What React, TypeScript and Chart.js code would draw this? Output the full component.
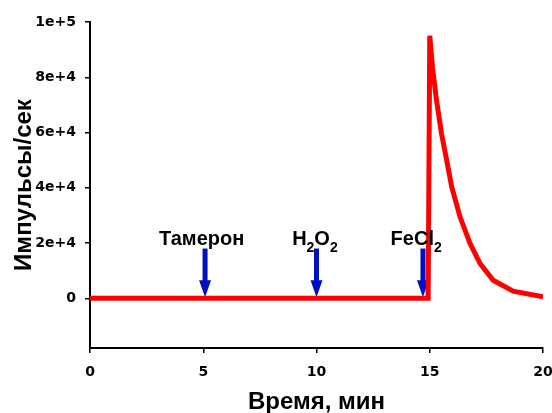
import React, { useEffect, useRef } from "react";
import { Chart, registerables } from "chart.js";

Chart.register(...registerables);

// ---- data ----
const times = [0, 14.93, 15.0, 15.12, 15.3, 15.52, 15.75, 15.97, 16.34, 16.78, 17.22, 17.8, 18.68, 20];
const counts = [0, 0, 95000, 83600, 71600, 59600, 49900, 40300, 29400, 19800, 12600, 6500, 2600, 500];

const xTickValues = [0, 5, 10, 15, 20];
const yTickValues = [0, 20000, 40000, 60000, 80000, 100000];
const yTickLabels = ["0", "2e+4", "4e+4", "6e+4", "8e+4", "1e+5"];

const xMin = 0;
const xMax = 20;
const yMin = -18000;
const yMax = 100000;

// additions marked by arrows
const arrowTimes = [5.08, 10.0, 14.7];
const arrowTopValues = [18000, 18000, 18000];
const arrowTipValue = 0;
const labelCenterTimes = [4.93, 9.93, 14.4];
const labelBaselineValue = 19200;
const labelParts: { t: string; sub?: boolean }[][] = [
  [{ t: "Тамерон" }],
  [{ t: "H" }, { t: "2", sub: true }, { t: "O" }, { t: "2", sub: true }],
  [{ t: "FeCl" }, { t: "2", sub: true }],
];

const RED = "#ff0000";
const BLUE = "#0010c0";
const TICK_FONT = { family: "'DejaVu Sans'", size: 14, weight: "bold" as const };
const TITLE_FONT = { family: "'Liberation Sans'", size: 24, weight: "bold" as const, lineHeight: 0.85 };
const YTITLE_FONT = { family: "'Liberation Sans'", size: 24, weight: "bold" as const, lineHeight: 1.2 };
const MAIN_FONT = "bold 20px 'Liberation Sans'";
const SUB_FONT = "bold 14px 'Liberation Sans'";

const arrowPlugin = {
  id: "arrows",
  beforeDatasetsDraw(chart: any) {
    const { ctx, scales } = chart;
    const x = scales.x;
    const y = scales.y;
    ctx.save();
    ctx.fillStyle = BLUE;
    arrowTimes.forEach((t, i) => {
      const px = x.getPixelForValue(t);
      const top = y.getPixelForValue(arrowTopValues[i]);
      const tip = y.getPixelForValue(arrowTipValue) - 1;
      const headH = 17;
      const headW = 12;
      ctx.fillRect(px - 2.5, top, 5, tip - headH - top + 1);
      ctx.beginPath();
      ctx.moveTo(px - headW / 2, tip - headH);
      ctx.lineTo(px + headW / 2, tip - headH);
      ctx.lineTo(px, tip);
      ctx.closePath();
      ctx.fill();
    });
    ctx.restore();
  },
  afterDatasetsDraw(chart: any) {
    const { ctx, scales } = chart;
    const x = scales.x;
    const y = scales.y;
    ctx.save();
    ctx.fillStyle = "#000";
    ctx.textBaseline = "alphabetic";
    ctx.textAlign = "left";
    labelParts.forEach((parts, i) => {
      let total = 0;
      parts.forEach((p) => {
        ctx.font = p.sub ? SUB_FONT : MAIN_FONT;
        total += ctx.measureText(p.t).width;
      });
      let cx = x.getPixelForValue(labelCenterTimes[i]) - total / 2;
      const base = y.getPixelForValue(labelBaselineValue);
      parts.forEach((p) => {
        ctx.font = p.sub ? SUB_FONT : MAIN_FONT;
        ctx.fillText(p.t, cx, p.sub ? base + 7 : base);
        cx += ctx.measureText(p.t).width;
      });
    });
    ctx.restore();
  },
};

export default function App() {
  const ref = useRef<HTMLCanvasElement | null>(null);

  useEffect(() => {
    if (!ref.current) return;
    const chart = new Chart(ref.current, {
      type: "line",
      data: {
        datasets: [
          {
            data: times.map((t, i) => ({ x: t, y: counts[i] })),
            borderColor: RED,
            backgroundColor: RED,
            borderWidth: 5,
            pointRadius: 0,
            tension: 0,
            fill: false,
          },
        ],
      },
      options: {
        animation: false,
        responsive: false,
        maintainAspectRatio: false,
        layout: { padding: { top: 22, right: 9, left: 0, bottom: 0 } },
        plugins: { legend: { display: false }, tooltip: { enabled: false } },
        scales: {
          x: {
            type: "linear",
            min: xMin,
            max: xMax,
            afterBuildTicks: (s: any) => {
              s.ticks = xTickValues.map((v) => ({ value: v }));
            },
            afterFit: (s: any) => {
              s.height = 65;
              s.paddingLeft = 0;
              s.paddingRight = 0;
            },
            ticks: { font: TICK_FONT, color: "#000", padding: 11, maxRotation: 0 },
            grid: { display: true, drawOnChartArea: false, drawTicks: true, tickLength: 5, color: "#000", lineWidth: 1.5 },
            border: { display: true, color: "#000", width: 2 },
            title: { display: true, text: "Время, мин", font: TITLE_FONT, color: "#000", padding: { top: 0, bottom: 0 } },
          },
          y: {
            type: "linear",
            min: yMin,
            max: yMax,
            afterBuildTicks: (s: any) => {
              s.ticks = yTickValues.map((v) => ({ value: v }));
            },
            afterFit: (s: any) => {
              s.width = 90;
              s.paddingTop = 0;
              s.paddingBottom = 0;
            },
            ticks: {
              font: TICK_FONT,
              color: "#000",
              padding: 9,
              callback: (v: any) => {
                const i = yTickValues.indexOf(Number(v));
                return i >= 0 ? yTickLabels[i] : "";
              },
            },
            grid: { display: true, drawOnChartArea: false, drawTicks: true, tickLength: 5, color: "#000", lineWidth: 1.5 },
            border: { display: true, color: "#000", width: 2 },
            title: { display: true, text: "Импульсы/сек", font: YTITLE_FONT, color: "#000", padding: { top: 10, bottom: 0 } },
          },
        },
      },
      plugins: [arrowPlugin],
    });
    return () => chart.destroy();
  }, []);

  return (
    <div style={{ position: "absolute", left: 0, top: 0, width: 552, height: 413, background: "#fff" }}>
      <canvas ref={ref} width={552} height={413} style={{ display: "block" }} />
    </div>
  );
}
